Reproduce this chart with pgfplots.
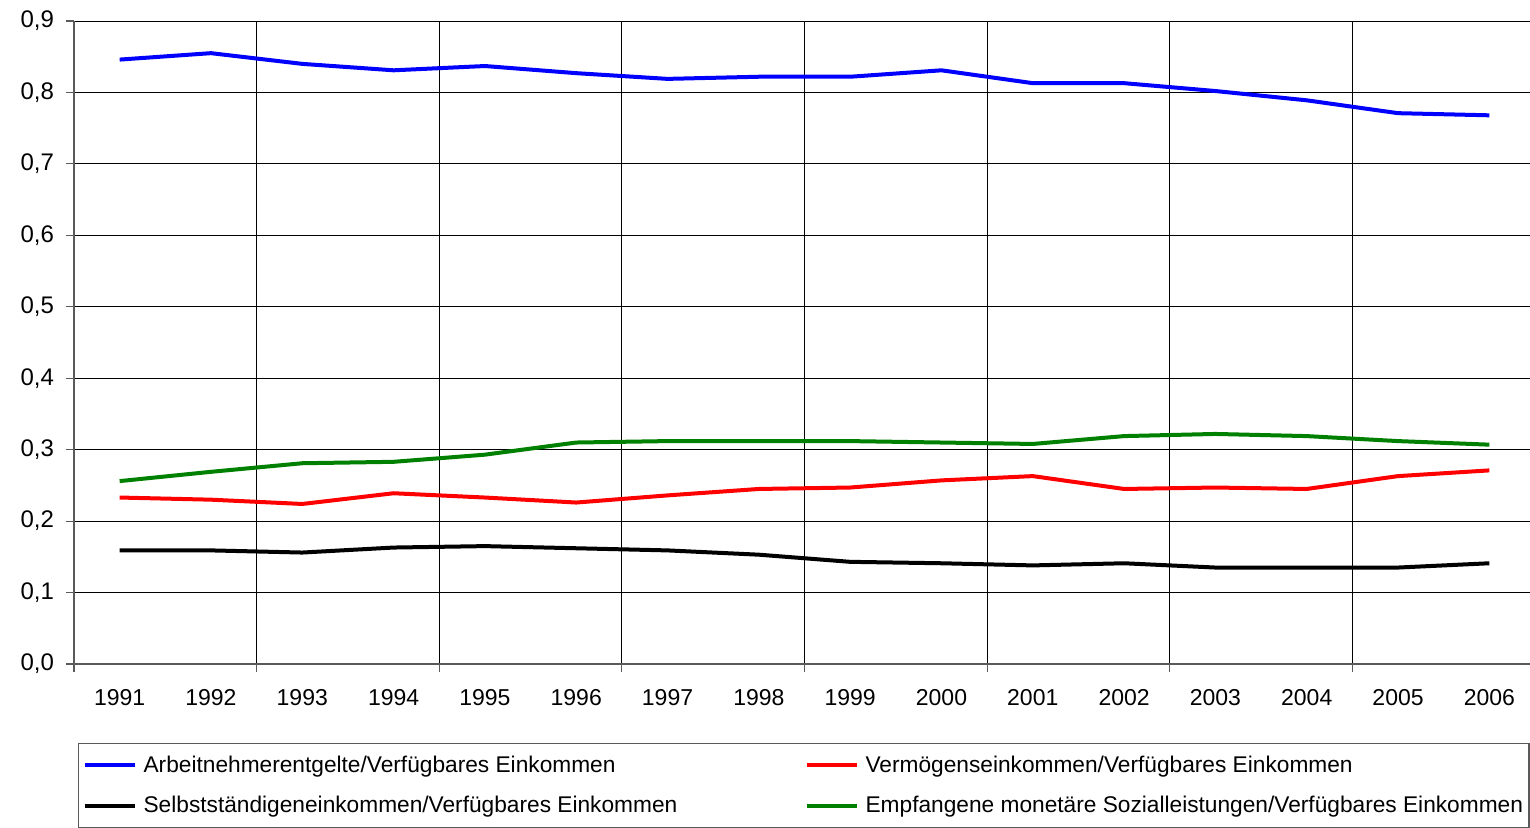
\documentclass[border=0pt]{standalone}
\usepackage{fontspec}
\setmainfont{Liberation Sans}
\usepackage{pgfplots}
\pgfplotsset{compat=1.18}

\definecolor{linblue}{RGB}{0,0,255}
\definecolor{linred}{RGB}{255,0,0}
\definecolor{lingreen}{RGB}{0,128,0}
\definecolor{axgray}{RGB}{90,90,90}

\begin{document}
\begin{tikzpicture}
% picture frame: axis box is (0,0)--(730.5pt,321.5pt)
\useasboundingbox (-37pt,-82pt) rectangle (728pt,332pt);
\begin{axis}[
  at={(0,0)}, anchor=south west,
  scale only axis,
  width=730.5pt, height=321.5pt,
  xmin=-0.5, xmax=15.5,
  ymin=0, ymax=0.9,
  axis lines*=left,
  axis line style={axgray, line width=0.8pt},
  tick align=outside,
  major tick length=4pt,
  tick style={axgray, line width=0.6pt},
  xtick={-0.5,1.5,3.5,5.5,7.5,9.5,11.5,13.5,15.5},
  xticklabels={},
  extra x ticks={0,1,2,3,4,5,6,7,8,9,10,11,12,13,14,15},
  extra x tick labels={1991,1992,1993,1994,1995,1996,1997,1998,1999,2000,2001,2002,2003,2004,2005,2006},
  extra x tick style={major tick length=0pt, grid=none,
    xticklabel style={yshift=-9pt}},
  ytick={0,0.1,0.2,0.3,0.4,0.5,0.6,0.7,0.8,0.9},
  yticklabel style={xshift=-2.5pt, font=\fontsize{12}{14}\selectfont,
    /pgf/number format/.cd, fixed, fixed zerofill, precision=1, use comma},
  /pgf/number format/assume math mode=true,
  xticklabel style={font=\fontsize{11.5}{13}\selectfont},
  xmajorgrids, ymajorgrids,
  grid style={black, line width=0.5pt},
  legend columns=2,
  legend cell align=left,
  legend style={at={(axis description cs:0,0)}, anchor=north west,
    xshift=2pt, yshift=-39.5pt, draw=axgray, line width=0.6pt,
    font=\fontsize{11.35}{13}\selectfont, row sep=6.5pt,
    inner xsep=1pt, inner ysep=4pt},
  legend image code/.code={\path (0pt,0pt) (27.5pt,0pt);
    \draw[#1, line width=2pt] (1pt,0pt) -- (26pt,0pt);},
]
\addplot[linblue, line width=2pt] coordinates {
  (0,0.846) (1,0.855) (2,0.840) (3,0.831) (4,0.837) (5,0.827) (6,0.819) (7,0.822)
  (8,0.822) (9,0.831) (10,0.813) (11,0.813) (12,0.802) (13,0.789) (14,0.771) (15,0.768)};
\addlegendentry{\makebox[327.5pt][l]{Arbeitnehmerentgelte/Verfügbares Einkommen}}
\addplot[linred, line width=2pt] coordinates {
  (0,0.233) (1,0.230) (2,0.224) (3,0.239) (4,0.233) (5,0.226) (6,0.236) (7,0.245)
  (8,0.247) (9,0.257) (10,0.263) (11,0.245) (12,0.247) (13,0.245) (14,0.263) (15,0.271)};
\addlegendentry{Vermögenseinkommen/Verfügbares Einkommen}
\addplot[black, line width=2pt] coordinates {
  (0,0.159) (1,0.159) (2,0.156) (3,0.163) (4,0.165) (5,0.162) (6,0.159) (7,0.153)
  (8,0.143) (9,0.141) (10,0.138) (11,0.141) (12,0.135) (13,0.135) (14,0.135) (15,0.141)};
\addlegendentry{\makebox[327.5pt][l]{Selbstständigeneinkommen/Verfügbares Einkommen}}
\addplot[lingreen, line width=2pt] coordinates {
  (0,0.256) (1,0.269) (2,0.281) (3,0.283) (4,0.293) (5,0.310) (6,0.312) (7,0.312)
  (8,0.312) (9,0.310) (10,0.308) (11,0.319) (12,0.322) (13,0.319) (14,0.312) (15,0.307)};
\addlegendentry{Empfangene monetäre Sozialleistungen/Verfügbares Einkommen}
\end{axis}
\end{tikzpicture}
\end{document}
